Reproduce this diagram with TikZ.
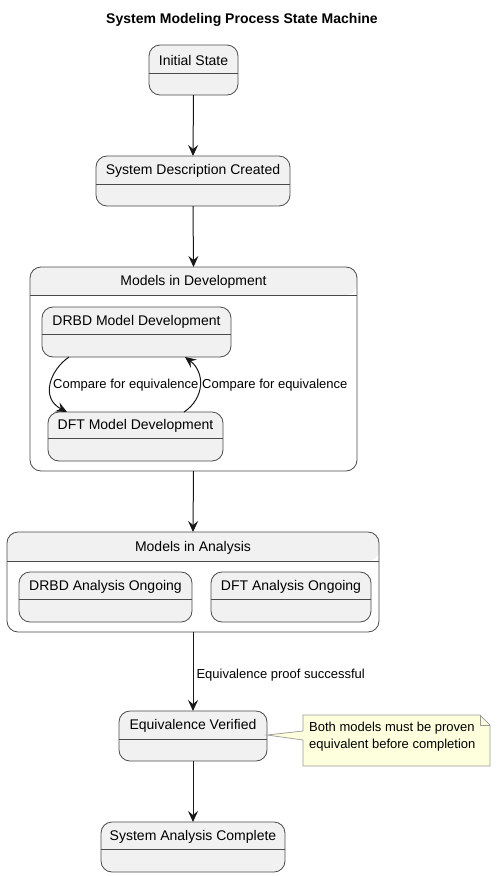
\documentclass[tikz,border=0pt]{standalone}
\usepackage{fontspec}
\setmainfont{Liberation Sans}
\usetikzlibrary{arrows.meta,calc}
\definecolor{stfill}{HTML}{F1F1F1}
\definecolor{stdraw}{HTML}{4A4A4A}
\definecolor{arr}{HTML}{181818}
\definecolor{notefill}{HTML}{FEFFDD}
\definecolor{notedraw}{HTML}{9A9A9A}
\tikzset{
  stbox/.style={draw=stdraw, fill=stfill, rounded corners=11pt, line width=0.8pt, inner sep=0pt, outer sep=0pt},
  cmpbox/.style={fill=white, rounded corners=11pt, line width=0.8pt, inner sep=0pt, outer sep=0pt},
  stline/.style={draw=stdraw, line width=0.8pt},
  sttext/.style={font=\fontsize{14}{16}\selectfont, inner sep=0pt, anchor=center},
  lbl/.style={font=\fontsize{13}{15}\selectfont, inner sep=0pt},
  conn/.style={draw=arr, line width=1pt, -{Stealth[length=11pt,width=10pt,inset=4pt]}},
}
\newcommand\stbx[7]{%
  \node[stbox, minimum width={#4-#2}, minimum height={#5-#3}] (#1) at ({(#2+#4)/2},{(#3+#5)/2}) {};
  \draw[stline] (#2,#6) -- (#4,#6);
  \node[sttext] (#1-t) at ({(#2+#4)/2},{(#3+#6)/2+1}) {#7};
}
\newcommand\cmpbx[7]{%
  \node[cmpbox, minimum width={#4-#2}, minimum height={#5-#3}] (#1) at ({(#2+#4)/2},{(#3+#5)/2}) {};
  \fill[stfill, rounded corners=11pt] (#2,#6) -- (#2,#3) -- (#4,#3) -- (#4,#6) [sharp corners] -- cycle;
  \draw[stline, rounded corners=11pt] (#1.north west) rectangle (#1.south east);
  \draw[stline] (#2,#6) -- (#4,#6);
  \node[sttext] (#1-t) at ({(#2+#4)/2},{(#3+#6)/2+1}) {#7};
}
\begin{document}
\begin{tikzpicture}[x=1pt,y=-1pt]
\useasboundingbox (0,0) rectangle (496,876);
\node[font=\fontsize{14}{16}\selectfont\bfseries, inner sep=0pt] (title) at (242,20) {System Modeling Process State Machine};

\stbx{init}{149}{45}{238}{95}{73}{Initial State}
\stbx{desc}{96}{156}{290}{206}{184}{System Description Created}
\cmpbx{dev}{30}{267}{357}{471}{295}{Models in Development}
\stbx{drbd}{42}{307}{231}{357}{334}{DRBD Model Development}
\stbx{dft}{48}{412}{223}{461}{438}{DFT Model Development}
\cmpbx{ana}{7}{532}{379}{632}{561}{Models in Analysis}
\stbx{drbda}{19}{572}{192}{622}{599}{DRBD Analysis Ongoing}
\stbx{dfta}{211}{572}{371}{622}{599}{DFT Analysis Ongoing}
\stbx{eqv}{119}{711}{267}{761}{739}{Equivalence Verified}
\stbx{done}{101}{822}{285}{872}{849}{System Analysis Complete}

% note
\node[inner sep=0pt, minimum width=187pt, minimum height=51pt] (note) at (396.5,740.5) {};
\draw[draw=notedraw, fill=notefill, line width=0.7pt]
  (303,715) -- (480,715) -- (490,725) -- (490,766) -- (303,766) -- (303,740) -- (eqv.east |- 0,735) -- (303,731) -- cycle;
\draw[draw=notedraw, line width=0.7pt] (480,715) -- (480,725) -- (490,725);
\node[lbl, anchor=west, align=left] (notetext) at (309,737) {Both models must be proven\\[2pt]equivalent before completion};

% connectors
\draw[conn] (init.south) -- (desc.north);
\draw[conn] (desc.south) -- (dev.north);
\draw[conn] (dev.south) -- (ana.north);
\draw[conn] (ana.south) -- node[lbl, anchor=west, pos=0.54, xshift=3pt] (elbl) {Equivalence proof successful} (eqv.north);
\draw[conn] (eqv.south) -- (done.north);

\coordinate (l1) at ($(drbd.south west)+(27,0)$);
\coordinate (l2) at ($(dft.north west)+(19,0)$);
\coordinate (r1) at ($(dft.north west)+(136,0)$);
\coordinate (r2) at ($(drbd.south west)+(143,0)$);
\draw[conn] (l1) .. controls (50,370) and (40,398) .. (l2);
\draw[conn] (r1) .. controls (205,398) and (205,372) .. (r2);
\node[lbl, anchor=west] (c1) at (53,385) {Compare for equivalence};
\node[lbl, anchor=west] (c2) at (202,385) {Compare for equivalence};
\end{tikzpicture}
\end{document}
